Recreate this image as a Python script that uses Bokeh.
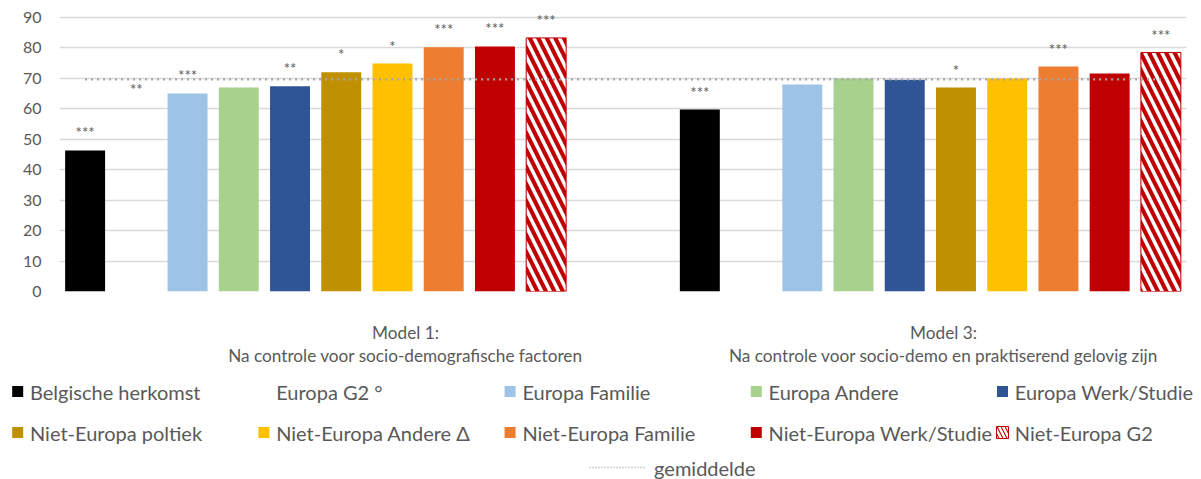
from bokeh.plotting import figure
from bokeh.layouts import column
from bokeh.models import Range1d, FixedTicker, ColumnDataSource
from bokeh.core.properties import value
from bokeh.embed import file_html
from bokeh.resources import INLINE

# ---------------- data ----------------
series = ["Belgische herkomst", "Europa G2 °", "Europa Familie", "Europa Andere",
          "Europa Werk/Studie", "Niet-Europa poltiek", "Niet-Europa Andere Δ",
          "Niet-Europa Familie", "Niet-Europa Werk/Studie", "Niet-Europa G2"]
models = ["Model 1:", "Model 3:"]
model_subtitles = ["Na controle voor socio-demografische factoren",
                   "Na controle voor socio-demo en praktiserend gelovig zijn"]
model1 = [46.3, 60.6, 65.0, 66.9, 67.3, 71.9, 74.8, 80.1, 80.4, 83.2]
model3 = [59.7, None, 67.9, 69.9, 69.5, 66.9, 69.9, 73.8, 71.5, 78.4]
sig1 = ["***", "**", "***", "", "**", "*", "*", "***", "***", "***"]
sig3 = ["***", "", "", "", "", "*", "", "***", "", "***"]
average = 69.6
average_label = "gemiddelde"
y_ticks = [0, 10, 20, 30, 40, 50, 60, 70, 80, 90]

# ---------------- styles ----------------
colors = ["#000000", None, "#9DC3E6", "#A9D18E", "#2F5597", "#BF9000",
          "#FFC000", "#ED7D31", "#C00000", "#C00000"]
hatched = [False] * 9 + [True]
FONT = "Lato"
GRAY = "#595959"
GRID = "#D9D9D9"
AVG = "#A6A6A6"

n_slots = 22
group_start = [0, 12]
bar_w = 0.78

W = 1201
HA = 306
pA = figure(width=W, height=HA, x_range=Range1d(0, n_slots), y_range=Range1d(0, 92.85),
            output_backend="svg", toolbar_location=None, x_axis_location=None,
            min_border_left=59, min_border_right=15, min_border_top=8, min_border_bottom=15)
pA.frame_align = False
pA.outline_line_color = None
pA.xgrid.visible = False
pA.ygrid.ticker = FixedTicker(ticks=y_ticks)
pA.ygrid.grid_line_color = GRID
pA.ygrid.grid_line_width = 1.4
pA.yaxis.ticker = FixedTicker(ticks=y_ticks)
pA.yaxis.axis_line_color = None
pA.yaxis.major_tick_line_color = None
pA.yaxis.major_tick_out = 0
pA.yaxis.major_tick_in = 0
pA.yaxis.minor_tick_line_color = None
pA.yaxis.major_label_text_font = FONT
pA.yaxis.major_label_text_font_size = "16px"
pA.yaxis.major_label_text_color = GRAY
pA.yaxis.major_label_standoff = 18

solid = dict(x=[], top=[], color=[])
hatch = dict(x=[], top=[])
labels = dict(x=[], y=[], text=[])
for g, (vals, sigs) in enumerate([(model1, sig1), (model3, sig3)]):
    for i, v in enumerate(vals):
        if v is None:
            continue
        x = group_start[g] + i + 0.5
        if colors[i] is not None:
            if hatched[i]:
                hatch["x"].append(x); hatch["top"].append(v)
            else:
                solid["x"].append(x); solid["top"].append(v); solid["color"].append(colors[i])
        if sigs[i]:
            labels["x"].append(x); labels["y"].append(v); labels["text"].append(sigs[i])

pA.vbar(x="x", top="top", width=bar_w, bottom=0, fill_color="color", line_color=None,
        source=ColumnDataSource(solid))
pA.vbar(x="x", top="top", width=bar_w, bottom=0, fill_color="#C00000", line_color="#C00000",
        line_width=1, hatch_pattern="\\", hatch_color="white", hatch_scale=17, hatch_weight=3.5,
        source=ColumnDataSource(hatch))
pA.line(x=[0.5, n_slots - 0.5], y=[average, average], line_color=AVG, line_width=2.2,
        line_dash="2 4")
pA.text(x="x", y="y", text="text", source=ColumnDataSource(labels), text_align="center",
        text_baseline="alphabetic", y_offset=-18, text_font=value(FONT),
        text_font_size="15px", text_color=GRAY)

# ---------------- category labels + legend ----------------
HB = 479 - HA
pB = figure(width=W, height=HB, x_range=Range1d(0, W), y_range=Range1d(479, HA),
            output_backend="svg", toolbar_location=None, x_axis_location=None,
            y_axis_location=None, min_border=0)
pB.frame_align = False
pB.outline_line_color = None
pB.grid.visible = False

cat_x = [405, 943]
pB.text(x=cat_x, y=[332, 332], text=models, text_align="center", text_baseline="middle",
        text_font=value(FONT), text_font_size="17.2px", text_color=GRAY)
pB.text(x=cat_x, y=[355, 355], text=model_subtitles, text_align="center",
        text_baseline="middle", text_font=value(FONT), text_font_size="17.2px", text_color=GRAY)

leg_rows = [391, 432]
leg = dict(tx=[], ty=[], name=[])
for i, name in enumerate(series):
    r, c = divmod(i, 5)
    tx = 29.5 + 246.2 * c
    ty = leg_rows[r]
    leg["tx"].append(tx); leg["ty"].append(ty); leg["name"].append(name)
    if colors[i] is not None and not hatched[i]:
        pB.rect(x=[tx - 12.3], y=[ty], width=11, height=11, width_units="screen",
                height_units="screen", fill_color=colors[i], line_color=None)
    elif hatched[i]:
        pB.rect(x=[tx - 12.3], y=[ty], width=12, height=12, width_units="screen",
                height_units="screen", fill_color="#C00000", line_color="#C00000",
                hatch_pattern="\\", hatch_color="white", hatch_scale=8, hatch_weight=2.5)
pB.text(x="tx", y="ty", text="name", source=ColumnDataSource(leg), text_align="left",
        text_baseline="middle", text_font=value(FONT), text_font_size="20px", text_color=GRAY)

pB.line(x=[589, 645], y=[467, 467], line_color=AVG, line_width=1.3, line_dash="1 2")
pB.text(x=[653.6], y=[467], text=[average_label], text_align="left", text_baseline="middle",
        text_font=value(FONT), text_font_size="20px", text_color=GRAY)

layout = column(pA, pB, spacing=0)
open("out.html", "w").write(file_html(layout, INLINE))
